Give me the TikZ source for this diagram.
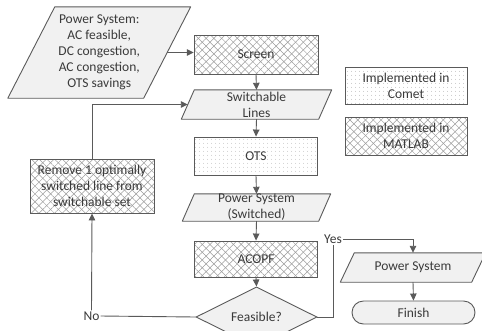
\documentclass[tikz,border=0pt]{standalone}
\usepackage{fontspec}
\setmainfont{Carlito}
\usetikzlibrary{arrows.meta,patterns.meta,shapes.geometric,backgrounds}
\definecolor{edge}{HTML}{5A5A5A}
\definecolor{txt}{HTML}{3A3A3A}
\definecolor{hatch}{HTML}{9C9C9C}
\definecolor{iofill}{HTML}{F1F1F1}
\newcommand{\drawparal}[2]{\draw[paraio] ([xshift=#2*0.5pt]#1.north west) -- ([xshift=#2*0.5pt]#1.north east) -- ([xshift=-#2*0.5pt]#1.south east) -- ([xshift=-#2*0.5pt]#1.south west) -- cycle;}
\tikzset{
  txtfont/.style={text=txt, font=\fontsize{13.5}{16}\selectfont},
  base/.style={txtfont, draw=edge, line width=0.9pt, inner sep=0pt, align=center},
  matlab/.style={base, rectangle,
    preaction={fill=white},
    preaction={pattern={Lines[angle=45,distance=5.5pt,line width=0.5pt]}, pattern color=hatch},
    pattern={Lines[angle=-45,distance=5.5pt,line width=0.5pt]}, pattern color=hatch},
  comet/.style={base, rectangle,
    preaction={fill=white},
    pattern={Dots[distance=4pt,radius=0.45pt]}, pattern color=hatch},
  io/.style={txtfont, rectangle, inner sep=0pt, align=center},
  paraio/.style={draw=edge, line width=0.9pt, fill=iofill, line join=round},
  decision/.style={base, diamond, fill=iofill, minimum width=121pt, minimum height=38pt},
  terminal/.style={base, rectangle, rounded corners=11.5pt, fill=iofill, minimum width=123pt, minimum height=23pt},
  lbl/.style={txtfont, inner sep=1pt},
  conn/.style={draw=edge, line width=0.9pt},
  arr/.style={conn, -{Triangle[length=7pt,width=6.5pt]}}
}
\begin{document}
\begin{tikzpicture}[x=1pt, y=-1pt]
\useasboundingbox (0,0) rectangle (482,330);

\node[io, minimum width=135.5pt, minimum height=91pt] (psin) at (99.25,52.5) {Power System:\\AC feasible,\\DC congestion,\\AC congestion,\\OTS savings};
\node[matlab, minimum width=124pt, minimum height=39pt] (screen) at (256,54.5) {Screen};
\node[io, minimum width=137pt, minimum height=29pt] (sw) at (256.5,104.5) {Switchable\\Lines};
\node[comet, minimum width=123pt, minimum height=38pt] (ots) at (256,156) {OTS};
\node[io, minimum width=136pt, minimum height=27pt] (psw) at (256.5,207.5) {Power System\\(Switched)};
\node[matlab, minimum width=123pt, minimum height=36pt] (acopf) at (256,259) {ACOPF};
\node[decision] (feas) at (256.5,317) {Feasible?};
\node[matlab, minimum width=124pt, minimum height=54pt] (remove) at (92,186) {Remove 1 optimally\\switched line from\\switchable set};
\node[comet, minimum width=122pt, minimum height=37pt] (comet) at (406,85.5) {Implemented in\\Comet};
\node[matlab, minimum width=122pt, minimum height=38pt] (mat) at (406,136) {Implemented in\\MATLAB};
\node[io, minimum width=131pt, minimum height=29pt] (psout) at (413,267.5) {Power System};
\node[terminal] (finish) at (413.5,312.5) {Finish};
\node[lbl] (no) at (91.5,316) {No};
\node[lbl] (yes) at (333,239.5) {Yes};

\begin{scope}[on background layer]
\drawparal{psin}{47}
\drawparal{sw}{13}
\drawparal{psw}{12}
\drawparal{psout}{14}
\end{scope}

\draw[arr] (psin.east) -- (psin.east -| screen.west);
\draw[arr] (screen.south) -- (sw.north);
\draw[arr] (sw.south) -- (ots.north);
\draw[arr] (ots.south) -- (psw.north);
\draw[arr] (psw.south) -- (acopf.north);
\draw[arr] (acopf.south) -- (feas.north);
\draw[conn] (feas.west) -- (no.east);
\draw[arr] (no.north) -- (remove.south);
\draw[arr] (remove.north) |- (sw.west);
\draw[conn] (feas.east) -| (yes.south);
\draw[arr] (yes.east) -| (psout.north);
\draw[arr] (psout.south) -- (finish.north);
\end{tikzpicture}
\end{document}
